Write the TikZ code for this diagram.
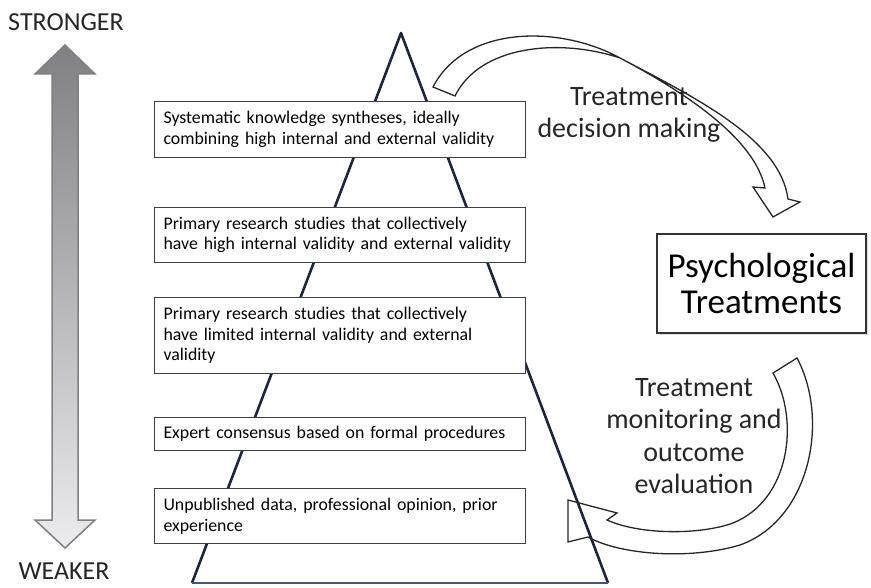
\documentclass[tikz,border=0pt]{standalone}
\usepackage{fontspec}
\setmainfont{Carlito}
\usetikzlibrary{arrows.meta, shadows}

\definecolor{pyrline}{RGB}{28,37,62}
\definecolor{pyrbase}{RGB}{70,86,118}

\begin{document}
\begin{tikzpicture}[x=1pt, y=-1pt,
        level/.style={draw=black!75, line width=1.1pt, fill=white, align=left,
            anchor=north west, text width=353pt, inner xsep=9pt,
            font=\fontsize{17.8}{20.5}\selectfont},
        endlabel/.style={font=\fontsize{26}{28}\selectfont, text=black!85},
        bigarrow/.style={draw=black!85, line width=1.3pt, line join=miter},
        caption/.style={font=\fontsize{28}{32.5}\selectfont, align=center, text=black!85}]
    \useasboundingbox (0,0) rectangle (871,588);

    \node[endlabel] (strong) at (66,22) {STRONGER};
    \node[endlabel] (weak) at (64,571) {WEAKER};
    \draw[draw=black!50, line width=1.5pt, top color={rgb,255:red,128;green,128;blue,132},
        bottom color={rgb,255:red,236;green,236;blue,238}]
        (65,45) -- (95,74) -- (78,74) -- (78,520) -- (95,520) -- (65,548)
        -- (35,520) -- (52,520) -- (52,74) -- (35,74) -- cycle;

    \draw[pyrline, line width=2.6pt, line join=round] (192,583) -- (401,33) -- (608,583);
    \draw[pyrbase, line width=2.6pt] (192,583) -- (608,583);

    \node[level, minimum height=56pt] (synth) at (154,101)
        {Systematic knowledge syntheses, ideally\\combining high internal and external validity};
    \node[level, minimum height=55pt] (highval) at (154,207)
        {Primary research studies that collectively\\have high internal validity and external validity};
    \node[level, minimum height=76pt] (lowval) at (154,297)
        {Primary research studies that collectively\\have limited internal validity and external\\validity};
    \node[level, minimum height=33pt] (expert) at (154,417)
        {Expert consensus based on formal procedures};
    \node[level, minimum height=55pt] (opinion) at (154,488)
        {Unpublished data, professional opinion, prior\\experience};

    \node[draw=black!80, line width=2.2pt, fill=white, minimum width=209pt, minimum height=99pt,
        align=center, font=\fontsize{35}{36}\selectfont,
        drop shadow={shadow xshift=2pt, shadow yshift=-2pt, opacity=0.25}] (psych) at (761.5,283.5)
        {Psychological\\Treatments};

    \draw[bigarrow] (433,87) .. controls (465,25) and (560,25) .. (620,58)
        .. controls (700,100) and (780,140) .. (788,199)
        -- (800,202) -- (773,217) -- (753,187) -- (765,188)
        .. controls (755,140) and (690,95) .. (620,58)
        .. controls (560,38) and (480,45) .. (455,96) -- cycle;
    \node[caption] (decide) at (629,115) {Treatment\\decision making};

    \draw[bigarrow] (797,358) .. controls (830,420) and (810,520) .. (740,545)
        .. controls (690,560) and (620,555) .. (588,537)
        -- (568,542) -- (568,500) -- (617,513) -- (607,520)
        .. controls (640,535) and (700,535) .. (733,523)
        .. controls (790,500) and (800,420) .. (773,373) -- cycle;
    \node[caption] (monitor) at (694,436) {Treatment\\monitoring and\\outcome\\evaluation};
\end{tikzpicture}
\end{document}
